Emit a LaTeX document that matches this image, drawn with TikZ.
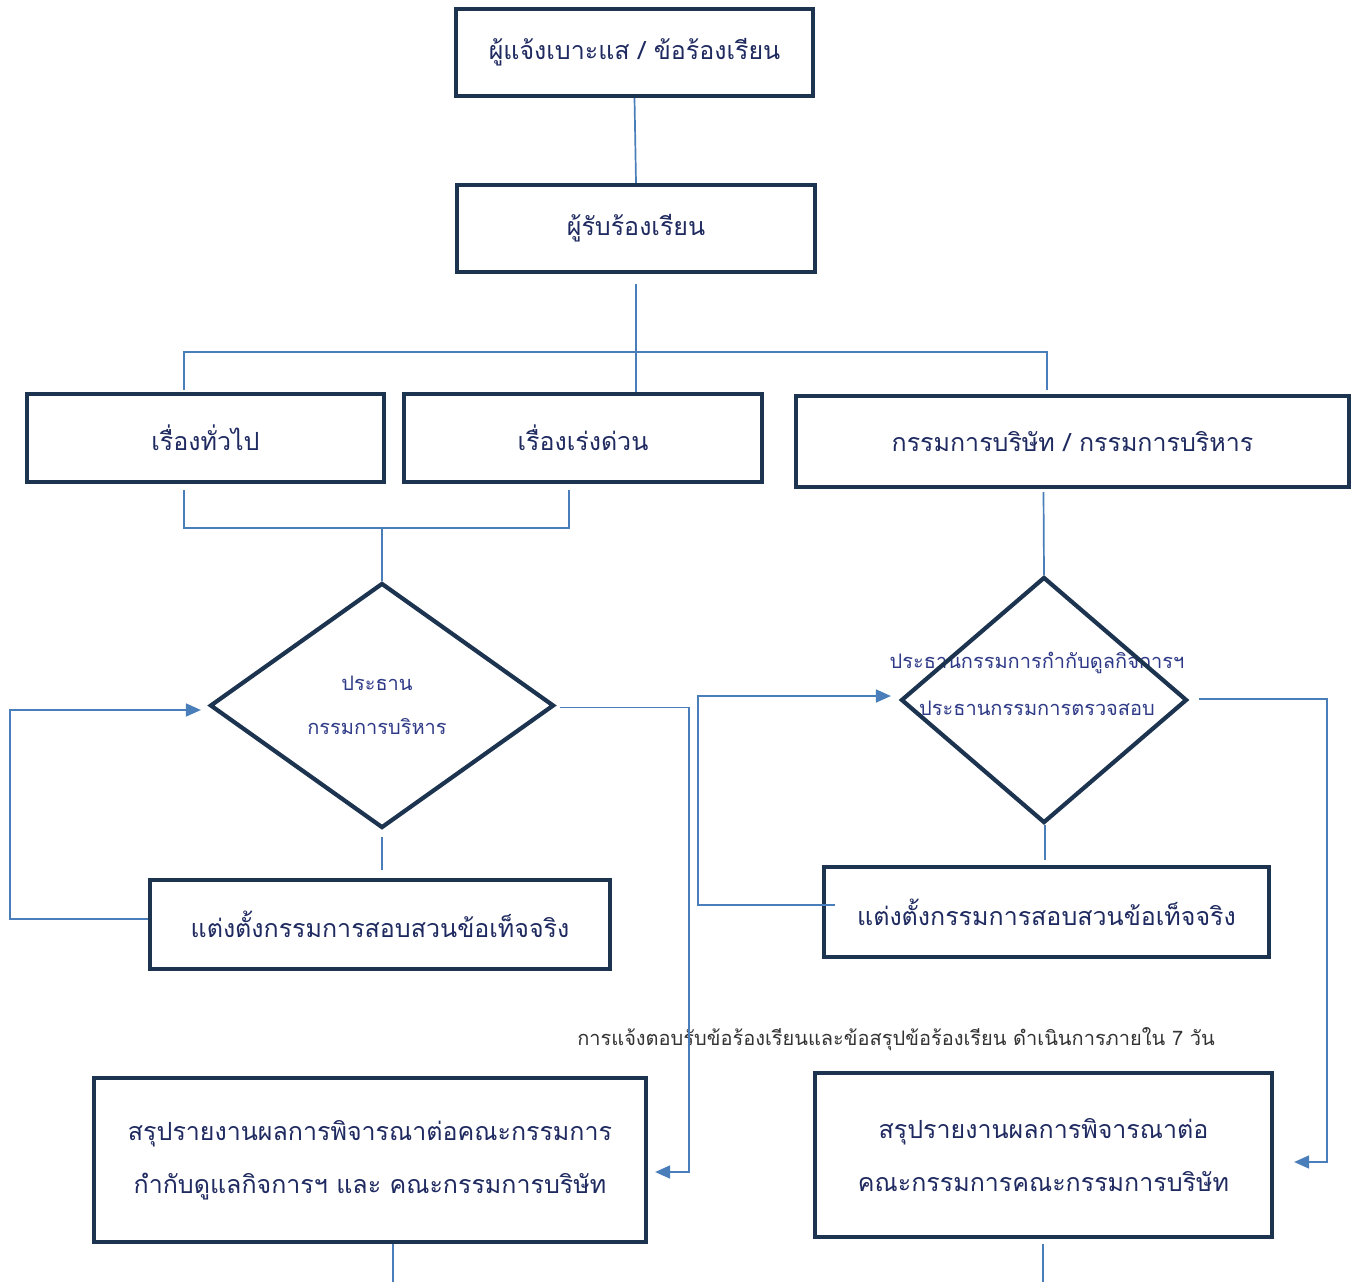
\documentclass[tikz,border=0pt]{standalone}
\usepackage{fontspec}
\newfontfamily\thaifont[Script=Thai]{Loma}
\usetikzlibrary{shapes.geometric,arrows.meta,calc}
\definecolor{boxc}{HTML}{1D3450}
\definecolor{linec}{HTML}{4A7EBB}
\definecolor{txtc}{HTML}{1F2A60}
\definecolor{dtxt}{HTML}{2E3A87}
\definecolor{gtxt}{HTML}{333333}
\begin{document}
\begin{tikzpicture}[x=1pt,y=-1pt,
  box/.style={draw=boxc, line width=4.2pt, rectangle, inner sep=0pt, text=txtc, align=center,
    font=\thaifont\fontsize{25}{32}\selectfont},
  dia/.style={draw=boxc, line width=4.2pt, diamond, inner sep=0pt},
  dtext/.style={text=dtxt, font=\thaifont\fontsize{20}{24}\selectfont, inner sep=0pt},
  conn/.style={draw=linec, line width=1.7pt},
  arr/.style={conn, -{Triangle[length=15pt,width=13pt]}}
]
\useasboundingbox[fill=white] (0,0) rectangle (1359,1287);

% boxes
\node[box, minimum width=357pt, minimum height=87pt] (src) at (634.5,52.5) {ผู้แจ้งเบาะแส / ข้อร้องเรียน};
\node[box, minimum width=358pt, minimum height=87pt] (rec) at (636,228.5) {ผู้รับร้องเรียน};
\node[box, minimum width=357pt, minimum height=88pt] (gen) at (205.5,438) {เรื่องทั่วไป};
\node[box, minimum width=358pt, minimum height=88pt] (urg) at (583,438) {เรื่องเร่งด่วน};
\node[box, minimum width=553pt, minimum height=91pt] (brd) at (1072.5,441.5) {กรรมการบริษัท / กรรมการบริหาร};

% diamonds text
\node[dtext] (lt1) at (377,683) {ประธาน};
\node[dtext] (lt2) at (377,727) {กรรมการบริหาร};
\node[dtext] (rt1) at (1037,663) {ประธานกรรมการกำกับดูลกิจการฯ};
\node[dtext] (rt2) at (1037,708) {ประธานกรรมการตรวจสอบ};

\node[dia, minimum width=344pt, minimum height=245pt] (ld) at (382,705.5) {};
\node[dia, minimum width=286pt, minimum height=246pt] (rd) at (1044,700) {};

\node[box, minimum width=460pt, minimum height=89pt] (lapp) at (380,924.5) {แต่งตั้งกรรมการสอบสวนข้อเท็จจริง};
\node[box, minimum width=445pt, minimum height=90pt] (rapp) at (1046.5,912) {แต่งตั้งกรรมการสอบสวนข้อเท็จจริง};

\node[box, minimum width=552pt, minimum height=164pt] (lrep) at (370,1160) {สรุปรายงานผลการพิจารณาต่อคณะกรรมการ\\[21pt]กำกับดูแลกิจการฯ และ คณะกรรมการบริษัท};
\node[box, minimum width=457pt, minimum height=164pt] (rrep) at (1043.5,1155) {สรุปรายงานผลการพิจารณาต่อ\\[21pt]คณะกรรมการคณะกรรมการบริษัท};

\node[text=gtxt, font=\thaifont\fontsize{20}{24}\selectfont, inner sep=0pt] (note) at (896,1039) {การแจ้งตอบรับข้อร้องเรียนและข้อสรุปข้อร้องเรียน ดำเนินการภายใน 7 วัน};

% connectors
\draw[conn] (src.south) -- (rec.north);
\coordinate (split) at ($(rec.south)+(0,10)$);
\draw[conn] (split) -- (split |- urg.north);
\coordinate (hl) at (184,352);
\coordinate (hr) at (1047,352);
\draw[conn] ($(hl)+(0,38)$) -- (hl) -- (hr) -- ($(hr)+(0,38)$);

\coordinate (bl) at (184,528);
\coordinate (br) at (569,528);
\draw[conn] ($(bl)+(0,-38)$) -- (bl) -- (br) -- ($(br)+(0,-38)$);
\draw[conn] (ld.north |- bl) -- (ld.north);

\draw[conn] ($(brd.south)+(-29,3)$) -- (rd.north);

\draw[conn] ($(ld.south)+(0,7)$) -- ($(ld.south |- lapp.north)+(0,-8)$);
\draw[conn] ($(rd.south)+(1,0)$) -- ($(rd.south |- rapp.north)+(1,-5)$);

% loops
\coordinate (lloop) at (10,919);
\coordinate (ltop) at (10,710);
\draw[arr] (lapp.west |- lloop) -- (lloop) -- (ltop) -- ($(ld.west |- ltop)+(-7,0)$);
\coordinate (rloop) at (698,905);
\coordinate (rtop) at (698,696);
\draw[arr] ($(rapp.west |- rloop)+(13,0)$) -- (rloop) -- (rtop) -- ($(rd.west |- rtop)+(-8,0)$);

% to reports
\draw[arr] ($(ld.east)+(4,2)$) -- (689,707.5) -- (689,1172) -- ($(lrep.east |- 0,1172)+(7,0)$);
\draw[arr] ($(rd.east)+(10,-1)$) -- (1327,699) -- (1327,1162) -- ($(rrep.east |- 0,1162)+(20,0)$);

% bottom stubs
\coordinate (le) at (393,1282);
\coordinate (re) at (1043,1282);
\draw[conn] (le |- lrep.south) -- (le);
\draw[conn] ($(re |- rrep.south)+(0,5)$) -- (re);
\end{tikzpicture}
\end{document}
